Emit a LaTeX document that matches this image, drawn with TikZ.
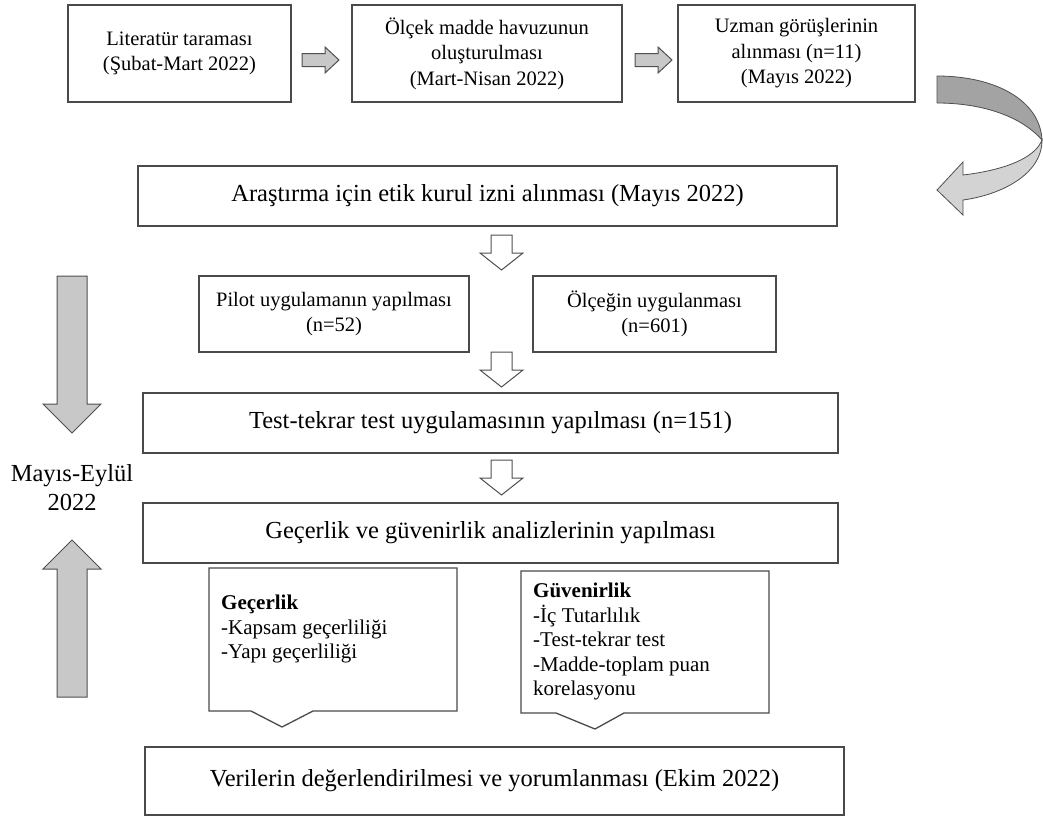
\documentclass[tikz,border=0pt]{standalone}
\usepackage{fontspec}
\setmainfont{Liberation Serif}
\definecolor{boxline}{HTML}{4A4A4A}
\definecolor{blkfill}{HTML}{C8C8C8}
\definecolor{blkline}{HTML}{4F4F4F}
\definecolor{banddark}{HTML}{A3A3A3}
\definecolor{bandlight}{HTML}{D3D3D3}
\begin{document}
\begin{tikzpicture}[x=1pt,y=-1pt,
  box/.style={draw=boxline, line width=1.3pt, fill=white, inner sep=0pt, align=center, text=black},
  smallfont/.style={font=\fontsize{20.5}{25.5}\selectfont},
  bigfont/.style={font=\fontsize{24.5}{30}\selectfont},
  listfont/.style={font=\fontsize{21}{24.5}\selectfont},
  grayblk/.style={draw=blkline, line width=1pt, fill=blkfill, line join=miter},
  whiteblk/.style={draw=blkline, line width=1pt, fill=white, line join=miter},
  callout/.style={draw=boxline, line width=1.3pt, fill=white, line join=miter},
  dnblk/.pic={\draw[whiteblk] (-10.5,0) -- (10.5,0) -- (10.5,18) -- (21.5,18) -- (0,35) -- (-21.5,18) -- (-10.5,18) -- cycle;},
  rtblk/.pic={\draw[grayblk] (0,-6.5) -- (23,-6.5) -- (23,-13) -- (37,0) -- (23,13) -- (23,6.5) -- (0,6.5) -- cycle;}
]
\useasboundingbox (0,0) rectangle (1043,820);

% top row
\node[box, smallfont, minimum width=223pt, minimum height=97pt] (lit) at (179.5,53.5)
  {Literatür taraması\\(Şubat-Mart 2022)};
\node[box, smallfont, minimum width=270pt, minimum height=97pt] (pool) at (487,53.5)
  {Ölçek madde havuzunun\\oluşturulması\\(Mart-Nisan 2022)};
\node[box, smallfont, minimum width=237pt, minimum height=97pt] (expert) at (796.5,53.5)
  {Uzman görüşlerinin\\alınması (n=11)\\(Mayıs 2022)};
\pic at (302,60) {rtblk};
\pic at (635,60) {rtblk};

% turning ribbon arrow
\draw[draw=blkline, line width=0.8pt, fill=banddark]
  (937,76) .. controls (995,76) and (1040,100) .. (1042,140)
  .. controls (1020,115) and (980,103) .. (937,103) -- cycle;
\draw[draw=blkline, line width=0.8pt, fill=bandlight, line join=miter]
  (1042,140) .. controls (1042,175) and (1000,195) .. (963,200)
  -- (963,215) -- (937,190) -- (963,162) -- (963,175)
  .. controls (1005,170) and (1035,158) .. (1042,140) -- cycle;

% main column
\node[box, bigfont, minimum width=699pt, minimum height=60pt] (ethics) at (487.5,196)
  {Araştırma için etik kurul izni alınması (Mayıs 2022)};
\pic at (501.5,235) {dnblk};
\node[box, smallfont, minimum width=270pt, minimum height=76pt] (pilot) at (334,314)
  {Pilot uygulamanın yapılması\\(n=52)};
\node[box, smallfont, minimum width=243pt, minimum height=76pt] (apply) at (654.5,314)
  {Ölçeğin uygulanması\\(n=601)};
\pic at (501.5,352) {dnblk};
\node[box, bigfont, minimum width=695pt, minimum height=60pt] (retest) at (490.5,423)
  {Test-tekrar test uygulamasının yapılması (n=151)};
\pic at (501.5,460) {dnblk};
\node[box, bigfont, minimum width=695pt, minimum height=60pt] (analysis) at (490.5,533)
  {Geçerlik ve güvenirlik analizlerinin yapılması};

% callouts
\draw[callout] (209,568) -- (457,568) -- (457,711) -- (313,711) -- (282,727)
  -- (251,711) -- (209,711) -- cycle;
\node[listfont, anchor=north west, align=left, inner sep=0pt] (validity) at (221,595)
  {\textbf{Geçerlik}\\-Kapsam geçerliliği\\-Yapı geçerliliği};
\draw[callout] (521,571) -- (769,571) -- (769,713) -- (624,713) -- (595,729)
  -- (556,713) -- (521,713) -- cycle;
\node[listfont, anchor=north west, align=left, inner sep=0pt] (reliability) at (533,583)
  {\textbf{Güvenirlik}\\-İç Tutarlılık\\-Test-tekrar test\\-Madde-toplam puan\\korelasyonu};

\node[box, bigfont, minimum width=699pt, minimum height=68pt] (result) at (494.5,781)
  {Verilerin değerlendirilmesi ve yorumlanması (Ekim 2022)};

% period indicator on the left
\draw[grayblk] (57,276) -- (87,276) -- (87,404) -- (101,404) -- (72,433) -- (43,404) -- (57,404) -- cycle;
\draw[grayblk] (57,697) -- (87,697) -- (87,569) -- (101,569) -- (72,540) -- (43,569) -- (57,569) -- cycle;
\node[align=center, font=\fontsize{24.5}{29}\selectfont] (period) at (72,488) {Mayıs-Eylül\\2022};
\end{tikzpicture}
\end{document}
